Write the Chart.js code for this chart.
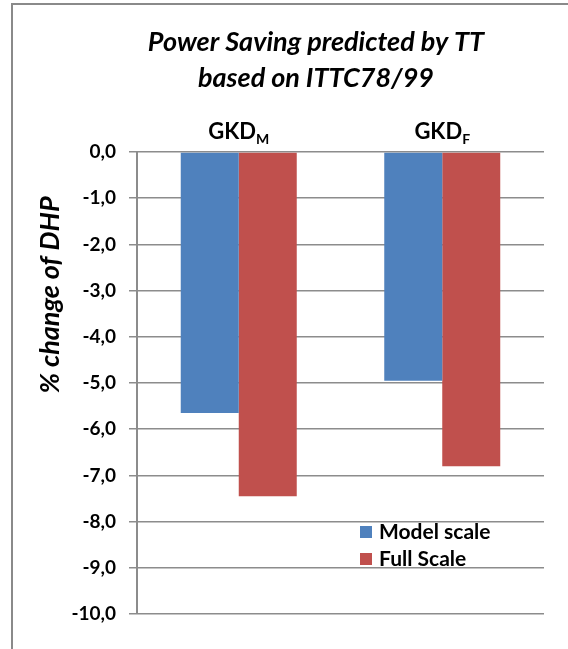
<!DOCTYPE html>
<html>
<head>
	<meta charset="UTF-8">
	<title>Power Saving</title>
	<script src="https://cdn.jsdelivr.net/npm/chart.js"></script>
	<style>
	html, body{margin:0; padding:0; background:#fff; overflow:hidden;}
	#wrap{width:568px; height:649px; position:relative;}
	</style>
</head>
<body>
	<div id="wrap">
	  <canvas id="myChart" width="568" height="649"></canvas>
	</div>
	<script>
	// data
	var categories = ['GKD_M', 'GKD_F'];
	var modelScale = [-5.65, -4.95];
	var fullScale = [-7.45, -6.8];
	var seriesNames = ['Model scale', 'Full Scale'];
	var titleLines = ['Power Saving predicted by TT', 'based on ITTC78/99'];
	var yTitle = '% change of DHP';

	var FONT = 'Lato, "Open Sans", sans-serif';

	// frame, titles, category labels and legend
	var decor = {
	  id: 'decor',
	  beforeDraw: function(chart){
	    var c = chart.ctx;
	    c.save();
	    c.strokeStyle = '#8a8a8a';
	    c.lineWidth = 2;
	    c.beginPath();
	    c.moveTo(12, 649);
	    c.lineTo(12, 4);
	    c.lineTo(568, 4);
	    c.stroke();
	    c.restore();
	  },
	  afterDraw: function(chart){
	    var c = chart.ctx;
	    c.save();
	    c.fillStyle = '#000';
	    // chart title
	    c.font = 'italic bold 27px ' + FONT;
	    c.textAlign = 'center';
	    c.textBaseline = 'alphabetic';
	    c.fillText(titleLines[0], 316, 51);
	    c.fillText(titleLines[1], 316, 87);

	    // y axis title
	    c.save();
	    c.translate(59, 295);
	    c.rotate(-Math.PI / 2);
	    c.font = 'italic bold 27px ' + FONT;
	    c.textAlign = 'center';
	    c.fillText(yTitle, 0, 0);
	    c.restore();

	    // category labels with subscripts, above the plot
	    var xs = chart.scales.x;
	    chart.data.labels.forEach(function(lab, i){
	      var parts = lab.split('_');
	      c.font = 'bold 22px ' + FONT;
	      var w1 = c.measureText(parts[0]).width;
	      c.font = 'bold 14px ' + FONT;
	      var w2 = c.measureText(parts[1]).width;
	      var x0 = xs.getPixelForValue(i) - (w1 + w2) / 2;
	      c.textAlign = 'left';
	      c.font = 'bold 22px ' + FONT;
	      c.fillText(parts[0], x0, 139);
	      c.font = 'bold 14px ' + FONT;
	      c.fillText(parts[1], x0 + w1, 144);
	    });

	    // legend inside the plot
	    c.font = 'bold 21px ' + FONT;
	    chart.data.datasets.forEach(function(ds, i){
	      var y = 539 + i * 27;
	      c.fillStyle = ds.backgroundColor;
	      c.fillRect(360, y - 13, 12, 12);
	      c.fillStyle = '#000';
	      c.fillText(ds.label, 379, y);
	    });
	    c.restore();
	  }
	};

	var ctx = document.getElementById('myChart');
	new Chart(ctx, {
	  type: 'bar',
	  data: {
	    labels: categories,
	    datasets: [{
	      label: seriesNames[0],
	      data: modelScale,
	      backgroundColor: '#4f81bd',
	      borderWidth: 0
	    }, {
	      label: seriesNames[1],
	      data: fullScale,
	      backgroundColor: '#c0504d',
	      borderWidth: 0
	    }]
	  },
	  plugins: [decor],
	  options: {
	    responsive: false,
	    animation: false,
	    categoryPercentage: 0.57,
	    barPercentage: 1.0,
	    layout: {padding: {left: 0, top: 152, right: 24, bottom: 35}},
	    plugins: {
	      legend: {display: false},
	      title: {display: false},
	      tooltip: {enabled: false}
	    },
	    scales: {
	      x: {
	        position: 'top',
	        ticks: {display: false},
	        grid: {display: false},
	        border: {display: false},
	        afterFit: function(s){ s.height = 0; }
	      },
	      y: {
	        min: -10,
	        max: 0,
	        afterFit: function(s){ s.width = 137; },
	        ticks: {
	          stepSize: 1,
	          color: '#000',
	          padding: 13,
	          font: {family: FONT, size: 19, weight: 'bold'},
	          callback: function(v){ return v.toFixed(1).replace('.', ','); }
	        },
	        grid: {color: '#8c8c8c', lineWidth: 1.5, tickLength: 8},
	        border: {color: '#8c8c8c', width: 2}
	      }
	    }
	  }
	});
	</script>
</body>
</html>
